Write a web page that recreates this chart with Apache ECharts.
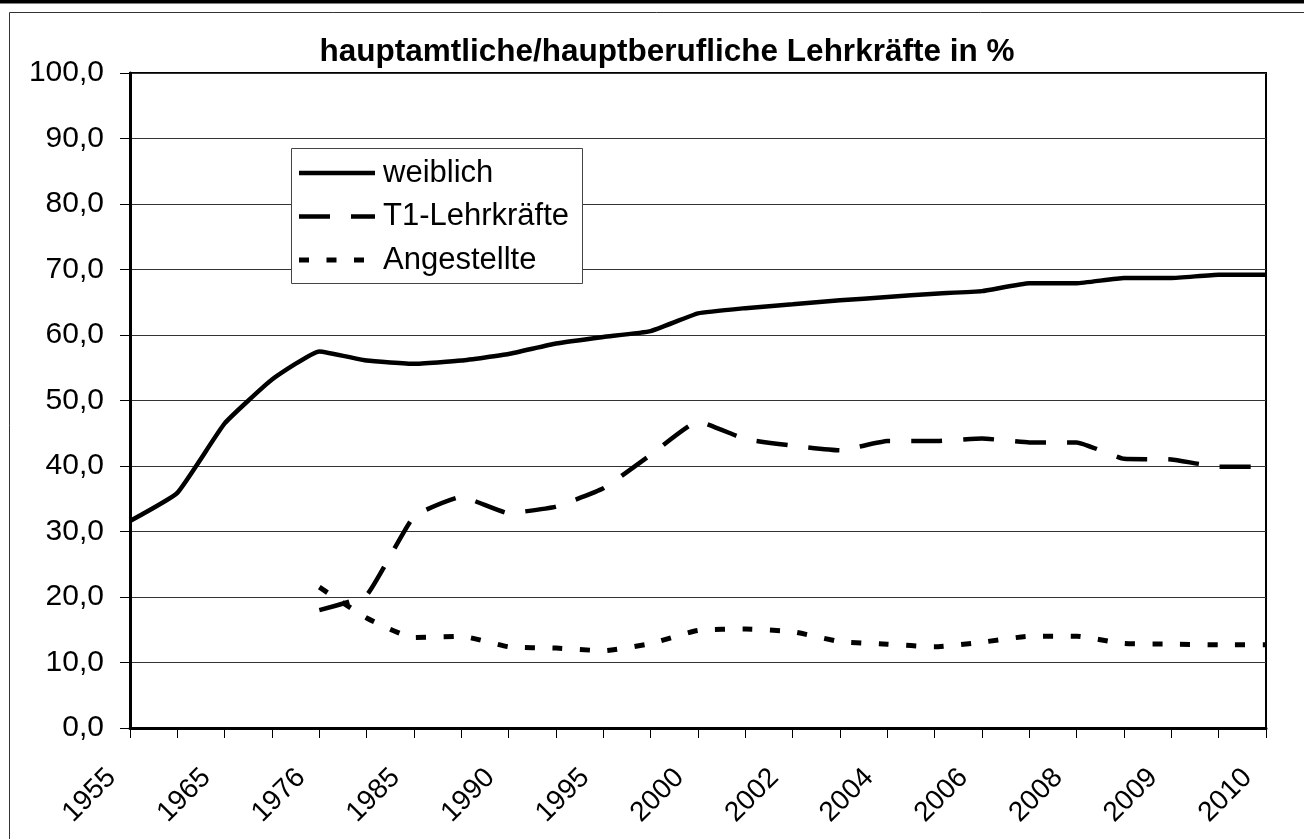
<!DOCTYPE html>
<html>
<head>
<meta charset="utf-8">
<script src="https://cdn.jsdelivr.net/npm/echarts@6/dist/echarts.min.js"></script>
<style>
html,body{margin:0;padding:0;background:#fff;overflow:hidden;}
#chart{width:1304px;height:839px;}
</style>
</head>
<body>
<div id="chart"></div>
<script>
// Categories (every other one is labelled in the original chart)
const categories = ['1955','','1965','','1976','','1985','','1990','','1995','','2000','','2002','','2004','','2006','','2008','','2009','','2010'];
const yTicks = [0,10,20,30,40,50,60,70,80,90,100];
const seriesNames = ['weiblich', 'T1-Lehrkräfte', 'Angestellte'];

const weiblich = [31.6, 35.9, 46.5, 53.2, 57.5, 56.1, 55.6, 56.1, 57.1, 58.7, 59.7, 60.6, 63.3, 64.1, 64.7, 65.3, 65.8, 66.3, 66.7, 67.9, 67.9, 68.7, 68.7, 69.2, 69.2];
const t1Lehrkraefte = ['-','-','-','-', 18.0, 20.3, 32.3, 35.3, 32.8, 33.8, 36.6, 41.7, 46.8, 44.1, 43.1, 42.4, 43.8, 43.8, 44.2, 43.6, 43.6, 41.1, 41.0, 39.9, 39.9];
const angestellte = ['-','-','-','-', 21.5, 16.8, 13.8, 14.0, 12.4, 12.2, 11.8, 12.9, 14.9, 15.1, 14.7, 13.2, 12.8, 12.4, 13.1, 14.0, 14.0, 12.9, 12.8, 12.7, 12.7];

const FONT = 'Liberation Sans, Arial, sans-serif';
const styles = [
  { width: 4.5, dash: null },
  { width: 4.5, dash: [31, 21] },
  { width: 5, dash: [10, 17.5] }
];

// legend drawn as graphic (box, line samples, texts)
const legendGraphic = [
  { type: 'rect', shape: { x: 291.5, y: 148.5, width: 291, height: 135 }, style: { fill: '#fff', stroke: '#444', lineWidth: 1 }, z: 100, silent: true }
];
seriesNames.forEach((name, i) => {
  const y = 173 + i * 43.5;
  legendGraphic.push({
    type: 'line', shape: { x1: 299, y1: y, x2: 375, y2: y },
    style: { stroke: '#000', lineWidth: styles[i].width, lineDash: styles[i].dash, lineCap: 'butt' },
    z: 101, silent: true
  });
  legendGraphic.push({
    type: 'text', x: 383, y: y,
    style: { text: name, fontFamily: FONT, fontSize: 31, fill: '#000', verticalAlign: 'middle', align: 'left' },
    z: 101, silent: true
  });
});

const chart = echarts.init(document.getElementById('chart'));
chart.setOption({
  backgroundColor: '#fff',
  animation: false,
  title: {
    text: 'hauptamtliche/hauptberufliche Lehrkräfte in %',
    left: 667, top: 36, textAlign: 'center', padding: 0,
    textStyle: { fontFamily: FONT, fontSize: 31.5, fontWeight: 'bold', color: '#000' }
  },
  grid: {
    left: 130, right: 38, top: 73, bottom: 111,
    containLabel: false, outerBoundsMode: 'none',
    show: true, borderColor: '#000', borderWidth: 2, backgroundColor: 'transparent'
  },
  xAxis: {
    type: 'category',
    data: categories,
    boundaryGap: false,
    axisLine: { lineStyle: { color: '#000', width: 3 } },
    axisTick: { show: true, interval: 0, length: 10, lineStyle: { color: '#000', width: 1 } },
    axisLabel: { interval: 0, rotate: 45, margin: 27, padding: [0, 26, 0, 0], fontFamily: FONT, fontSize: 28, color: '#000' },
    splitLine: { show: false }
  },
  yAxis: {
    type: 'value',
    min: yTicks[0], max: yTicks[yTicks.length - 1], interval: 10,
    axisLine: { show: true, lineStyle: { color: '#000', width: 3 } },
    axisTick: { show: true, length: 10, lineStyle: { color: '#000', width: 1 } },
    axisLabel: {
      margin: 26, fontFamily: FONT, fontSize: 30, color: '#000',
      formatter: v => v.toFixed(1).replace('.', ',')
    },
    splitLine: { show: true, lineStyle: { color: '#333', width: 1 } }
  },
  series: [
    {
      name: seriesNames[0], type: 'line', data: weiblich, symbol: 'none', smooth: 0.12,
      lineStyle: { color: '#000', width: styles[0].width, type: 'solid' }, z: 5
    },
    {
      name: seriesNames[1], type: 'line', data: t1Lehrkraefte, symbol: 'none', smooth: 0.12,
      lineStyle: { color: '#000', width: styles[1].width, type: styles[1].dash, cap: 'butt' }, z: 4
    },
    {
      name: seriesNames[2], type: 'line', data: angestellte, symbol: 'none', smooth: 0.15,
      lineStyle: { color: '#000', width: styles[2].width, type: styles[2].dash, cap: 'butt' }, z: 3
    }
  ],
  graphic: [
    { type: 'rect', shape: { x: 0, y: 0, width: 1304, height: 3.5 }, style: { fill: '#000' }, silent: true },
    { type: 'line', shape: { x1: 9.5, y1: 12.5, x2: 1304, y2: 12.5 }, style: { stroke: '#333', lineWidth: 1 }, silent: true },
    { type: 'line', shape: { x1: 9.5, y1: 12.5, x2: 9.5, y2: 839 }, style: { stroke: '#333', lineWidth: 1 }, silent: true }
  ].concat(legendGraphic)
});
</script>
</body>
</html>
